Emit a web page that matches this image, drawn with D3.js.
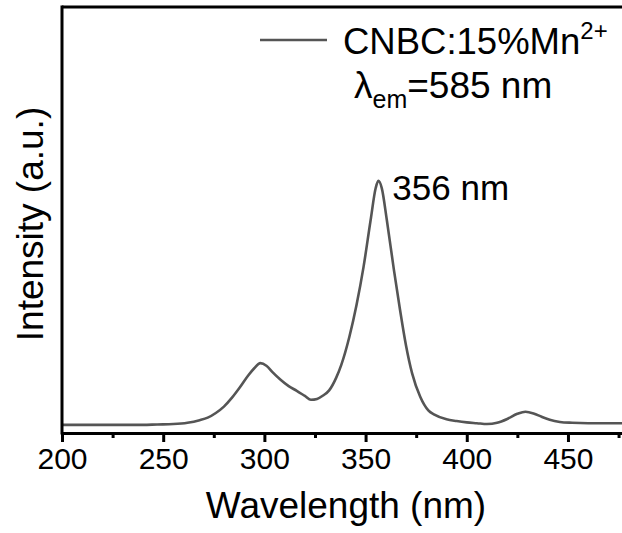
<!DOCTYPE html>
<html>
<head>
<meta charset="utf-8">
<script src="https://cdn.jsdelivr.net/npm/d3@7"></script>
<style>
  body { margin: 0; background: #fff; }
  svg text { font-family: "Liberation Sans", Arial, sans-serif; fill: #000; }
</style>
</head>
<body>
<div id="chart"></div>
<script>
// excitation spectrum (intensity in a.u.)
const wavelength = [200, 210, 220, 230, 240, 247, 255, 262, 268, 272, 276, 280, 284, 288, 292, 295, 298,
  301, 304, 308, 312, 316, 320, 323, 326, 329, 332, 335.5, 338, 342, 345.5, 349, 352.5, 355, 356.3,
  358, 360.5, 364, 367, 370, 373, 377, 381, 384, 390, 395, 400, 405, 410, 415, 420, 425, 429, 433,
  437, 441, 446, 452, 460, 470, 477];
const intensity = [0.019, 0.019, 0.019, 0.019, 0.019, 0.02, 0.021, 0.024, 0.03, 0.036, 0.047, 0.062, 0.083, 0.108, 0.135, 0.152, 0.164,
  0.158, 0.143, 0.125, 0.11, 0.099, 0.087, 0.078, 0.08, 0.088, 0.1, 0.13, 0.16, 0.226, 0.3, 0.39, 0.5, 0.575, 0.592,
  0.575, 0.5, 0.383, 0.29, 0.205, 0.14, 0.085, 0.053, 0.043, 0.032, 0.028, 0.025, 0.023, 0.021, 0.024, 0.033, 0.045, 0.05, 0.046,
  0.038, 0.031, 0.026, 0.024, 0.023, 0.023, 0.023];
const majorTicks = [200, 250, 300, 350, 400, 450];
const minorTicks = [225, 275, 325, 375, 425, 475];
const seriesName = "CNBC:15%Mn";

const dims = { width: 622, height: 533 };
const margin = { left: 62, top: 7, bottom: 433 };

const svg = d3.select('#chart')
  .append('svg')
    .attr('width', dims.width)
    .attr('height', dims.height);

const x = d3.scaleLinear().domain([200, 476.7]).range([margin.left, dims.width]);
const y = d3.scaleLinear().domain([0, 1]).range([margin.bottom, margin.top]);

const data = wavelength.map((w, i) => ({ w: w, v: intensity[i] }));

// spectrum line
const line = d3.line()
  .x(d => x(d.w))
  .y(d => y(d.v))
  .curve(d3.curveMonotoneX);

svg.append('path')
  .datum(data)
  .attr('d', line)
  .attr('fill', 'none')
  .attr('stroke', '#555')
  .attr('stroke-width', 2.6);

// minor ticks (no labels)
svg.append('g')
  .attr('transform', `translate(0, ${margin.bottom})`)
  .call(d3.axisBottom(x).tickValues(minorTicks).tickSize(5).tickFormat(''))
  .call(g => g.select('.domain').remove())
  .selectAll('line').attr('stroke-width', 3);

// major ticks + labels
const xAxis = svg.append('g')
  .attr('transform', `translate(0, ${margin.bottom})`)
  .call(d3.axisBottom(x).tickValues(majorTicks).tickSize(9).tickSizeOuter(0).tickPadding(6));
xAxis.select('.domain').attr('stroke-width', 3);
xAxis.selectAll('.tick line').attr('stroke-width', 3);
xAxis.selectAll('text')
  .attr('font-size', 30)
  .attr('font-family', '"Liberation Sans", Arial, sans-serif');

// left axis + top frame
svg.append('line')
  .attr('x1', margin.left).attr('x2', margin.left)
  .attr('y1', margin.top - 1.5).attr('y2', margin.bottom + 1.5)
  .attr('stroke', '#000').attr('stroke-width', 3);
svg.append('line')
  .attr('x1', margin.left).attr('x2', dims.width)
  .attr('y1', margin.top).attr('y2', margin.top)
  .attr('stroke', '#000').attr('stroke-width', 3);

// axis titles
svg.append('text')
  .attr('x', (margin.left + dims.width) / 2 + 4)
  .attr('y', 518)
  .attr('text-anchor', 'middle')
  .attr('font-size', 37)
  .text('Wavelength (nm)');

svg.append('text')
  .attr('transform', 'translate(43, 224) rotate(-90)')
  .attr('text-anchor', 'middle')
  .attr('font-size', 37)
  .text('Intensity (a.u.)');

// legend
svg.append('line')
  .attr('x1', 260).attr('x2', 327)
  .attr('y1', 40).attr('y2', 40)
  .attr('stroke', '#555').attr('stroke-width', 2.6);

const leg = svg.append('text')
  .attr('x', 343).attr('y', 54)
  .attr('font-size', 36.5)
  .text(seriesName);
leg.append('tspan')
  .attr('font-size', 24)
  .attr('dy', -15)
  .text('2+');

const lam = svg.append('text')
  .attr('x', 354).attr('y', 98)
  .attr('font-size', 37)
  .text('λ');
lam.append('tspan').attr('font-size', 25).attr('dy', 10).text('em');
lam.append('tspan').attr('dy', -10).text('=585 nm');

// peak label
const peak = data.reduce((a, b) => (b.v > a.v ? b : a));
svg.append('text')
  .attr('x', x(peak.w) + 14)
  .attr('y', 200)
  .attr('font-size', 35)
  .text(Math.round(peak.w) + ' nm');
</script>
</body>
</html>
